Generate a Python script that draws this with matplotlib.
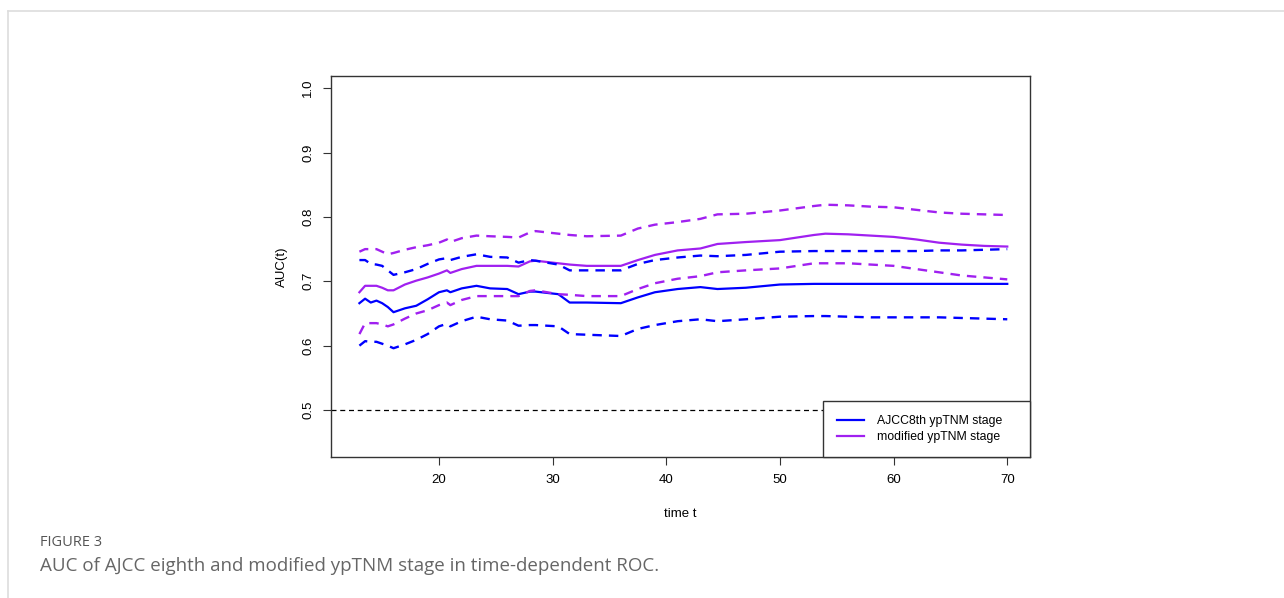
import matplotlib
matplotlib.use('Agg')
import matplotlib.pyplot as plt
from matplotlib.lines import Line2D

plt.rcParams['font.family'] = ['Liberation Sans', 'DejaVu Sans']

# time points (months)
t = [13, 13.5, 14, 14.5, 15, 15.5, 16, 17, 18, 19, 20, 20.7, 21, 22, 23.3, 24.5,
     26, 27, 28, 28.5, 30.5, 31.5, 33, 36, 37.5, 39, 41, 43, 44.5, 47, 50, 53,
     54, 56, 58, 60, 62, 64, 66, 68, 70]

# AJCC 8th ypTNM stage: AUC and 95% CI
ajcc = [0.666, 0.673, 0.667, 0.670, 0.666, 0.660, 0.652, 0.658, 0.662, 0.672, 0.683,
        0.686, 0.683, 0.689, 0.693, 0.689, 0.688, 0.680, 0.684, 0.684, 0.680, 0.667,
        0.667, 0.666, 0.675, 0.683, 0.688, 0.691, 0.688, 0.690, 0.695, 0.696, 0.696,
        0.696, 0.696, 0.696, 0.696, 0.696, 0.696, 0.696, 0.696]
ajcc_hi = [0.733, 0.733, 0.727, 0.726, 0.724, 0.717, 0.710, 0.714, 0.719, 0.727, 0.734,
           0.736, 0.733, 0.738, 0.742, 0.738, 0.737, 0.729, 0.733, 0.732, 0.726, 0.717,
           0.717, 0.717, 0.727, 0.733, 0.737, 0.740, 0.739, 0.741, 0.746, 0.747, 0.747,
           0.747, 0.747, 0.747, 0.747, 0.748, 0.748, 0.749, 0.750]
ajcc_lo = [0.600, 0.607, 0.606, 0.606, 0.603, 0.600, 0.596, 0.602, 0.609, 0.618, 0.630,
           0.634, 0.630, 0.638, 0.645, 0.641, 0.639, 0.631, 0.632, 0.632, 0.630, 0.618,
           0.617, 0.615, 0.626, 0.632, 0.638, 0.641, 0.638, 0.641, 0.645, 0.646, 0.646,
           0.645, 0.644, 0.644, 0.644, 0.644, 0.643, 0.642, 0.641]

# modified ypTNM stage: AUC and 95% CI
mod = [0.683, 0.693, 0.693, 0.693, 0.690, 0.686, 0.686, 0.695, 0.701, 0.706, 0.712,
       0.717, 0.713, 0.719, 0.724, 0.724, 0.724, 0.723, 0.731, 0.732, 0.728, 0.726,
       0.724, 0.724, 0.733, 0.741, 0.748, 0.751, 0.758, 0.761, 0.764, 0.772, 0.774,
       0.773, 0.771, 0.769, 0.765, 0.760, 0.757, 0.755, 0.754]
mod_hi = [0.746, 0.750, 0.750, 0.750, 0.746, 0.742, 0.744, 0.749, 0.753, 0.756, 0.760,
          0.765, 0.761, 0.767, 0.771, 0.770, 0.769, 0.768, 0.776, 0.778, 0.774, 0.772,
          0.770, 0.771, 0.782, 0.788, 0.792, 0.797, 0.804, 0.805, 0.810, 0.817, 0.819,
          0.818, 0.816, 0.815, 0.811, 0.807, 0.805, 0.804, 0.803]
mod_lo = [0.618, 0.635, 0.635, 0.635, 0.633, 0.630, 0.633, 0.642, 0.650, 0.655, 0.663,
          0.667, 0.663, 0.671, 0.677, 0.677, 0.677, 0.677, 0.685, 0.686, 0.680, 0.679,
          0.677, 0.677, 0.688, 0.697, 0.704, 0.708, 0.714, 0.717, 0.720, 0.728, 0.728,
          0.728, 0.726, 0.724, 0.719, 0.714, 0.709, 0.706, 0.703]

xticks = [20, 30, 40, 50, 60, 70]
yticks = [0.5, 0.6, 0.7, 0.8, 0.9, 1.0]

blue = '#0000FF'
purple = '#A020F0'

fig = plt.figure(figsize=(12.84, 5.98), dpi=100)
ax = fig.add_axes([331 / 1284, 1 - 457 / 598, 699 / 1284, 381 / 598])

ax.plot(t, ajcc, color=blue, lw=1.6, label='AJCC8th ypTNM stage    ')
ax.plot(t, mod, color=purple, lw=1.6, label='modified ypTNM stage    ')
for lo, hi, c in [(ajcc_lo, ajcc_hi, blue), (mod_lo, mod_hi, purple)]:
    ax.plot(t, lo, color=c, lw=1.7, dashes=(4, 3))
    ax.plot(t, hi, color=c, lw=1.7, dashes=(4, 3))
ax.axhline(0.5, color='black', lw=0.9, dashes=(4, 3))

ax.set_xlim(10.5, 72.0)
ax.set_ylim(0.427, 1.019)
ax.set_xticks(xticks)
ax.set_yticks(yticks)
ax.set_xticklabels([str(x) for x in xticks], fontsize=9.5)
ax.set_yticklabels(['%.1f' % y for y in yticks], fontsize=9.5, rotation=90, va='center')
ax.tick_params(length=6, width=0.8, color='#333333', pad=6)
for s in ax.spines.values():
    s.set_color('#333333')
    s.set_linewidth(1.0)

ax.set_xlabel('time t', fontsize=9.5, labelpad=16)
ax.set_ylabel('AUC(t)', fontsize=9.5, labelpad=10)

leg = ax.legend(loc='lower right', borderaxespad=0, fancybox=False, edgecolor='#333333',
                framealpha=1, fontsize=8.8, handlelength=2.2, handletextpad=1.1,
                borderpad=1.15, labelspacing=0.3)
leg.get_frame().set_linewidth(1.0)

# page frame
fig.add_artist(Line2D([8 / 1284, 1], [1 - 11 / 598, 1 - 11 / 598], color='#dddddd', lw=1.2))
fig.add_artist(Line2D([8 / 1284, 8 / 1284], [0, 1 - 11 / 598], color='#dddddd', lw=1.2))

fig.text(40 / 1284, 1 - 543 / 598, 'FIGURE 3', fontsize=10.5, color='#555555',
         family=['Open Sans', 'DejaVu Sans'], va='center')
fig.text(40 / 1284, 1 - 566 / 598, 'AUC of AJCC eighth and modified ypTNM stage in time-dependent ROC.',
         fontsize=13.5, color='#666666', family=['Open Sans', 'DejaVu Sans'], va='center')

fig.savefig('out.png', dpi=100)
